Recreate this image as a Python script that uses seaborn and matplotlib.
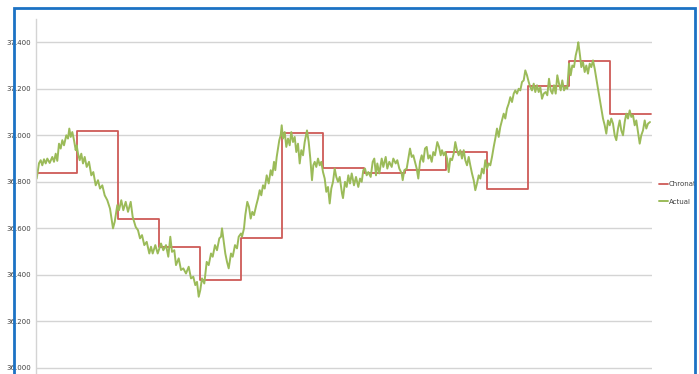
import matplotlib
matplotlib.use("Agg")
import matplotlib.pyplot as plt
import matplotlib.ticker as mticker
from matplotlib.patches import Rectangle
import seaborn as sns
import pandas as pd

# ---------------- data ----------------
# Chronat: 15 equal intervals (time units 0..615), step values
chronat_edges = [0, 41, 82, 123, 164, 205, 246, 287, 328, 369, 410, 451, 492, 533, 574, 615]
chronat_vals = [36.84, 37.02, 36.64, 36.52, 36.38, 36.56, 37.01, 36.86, 36.84, 36.85,
                36.93, 36.77, 37.21, 37.32, 37.09]

# Actual: traced series, part 1
actual_t1 = [0.7, 3, 4.7, 6.3, 8, 9.7, 11.3, 13.7, 16.3, 18, 19.7, 21.3, 23, 24.7, 26.3, 28,
             30.3, 32, 33.3, 34.7, 36.3, 38, 39.7, 40.7, 42, 43.7, 45.3, 47, 48.7, 50.7, 53,
             55.3, 57.3, 59.7, 62, 64, 66.3, 68.7, 71.3, 74, 75.7, 77, 78.7, 81.3, 83, 85.3,
             87.3, 89.7, 92, 94.7, 96.7, 99.7, 102]
actual_v1 = [36.814, 36.88, 36.893, 36.871, 36.897, 36.879, 36.90, 36.881, 36.907, 36.886,
             36.921, 36.89, 36.964, 36.943, 36.979, 36.957, 37.0, 36.986, 37.029, 36.993,
             37.014, 36.979, 36.936, 36.957, 36.921, 36.893, 36.921, 36.879, 36.907, 36.864,
             36.886, 36.828, 36.842, 36.785, 36.807, 36.771, 36.785, 36.742, 36.721, 36.685,
             36.635, 36.60, 36.628, 36.70, 36.678, 36.721, 36.678, 36.714, 36.671, 36.714,
             36.649, 36.606, 36.592]
# part 2
actual_t2 = [104, 106, 108.3, 110.7, 113.3, 115, 116.7, 119.3, 121.7, 125, 127.3, 130, 132.3,
             134.3, 136, 138.3, 140, 142.7, 145, 147.3, 150, 152.7, 155, 157.3, 159.3, 161,
             162.7, 164.3, 166, 168.3, 170.7, 172.7, 175, 176.7, 179, 181, 183.3, 185, 186,
             187.3, 189.3, 191, 192.7, 195, 196.7, 199, 201, 202.7, 205]
actual_v2 = [36.557, 36.571, 36.528, 36.542, 36.492, 36.521, 36.492, 36.528, 36.492, 36.535,
             36.506, 36.528, 36.478, 36.564, 36.499, 36.506, 36.442, 36.471, 36.421, 36.428,
             36.406, 36.435, 36.385, 36.392, 36.356, 36.37, 36.306, 36.335, 36.385, 36.363,
             36.456, 36.442, 36.492, 36.478, 36.528, 36.506, 36.557, 36.564, 36.60, 36.557,
             36.492, 36.456, 36.428, 36.492, 36.478, 36.528, 36.514, 36.564, 36.578]
# part 3
actual_t3 = [206, 208, 209.3, 211.3, 213, 214.7, 216.3, 218, 220.3, 222, 223.7, 225.3, 227,
             228.7, 230.7, 232.7, 234.7, 236.3, 238, 239.3, 240.7, 242, 243.3, 244.7, 245.7,
             247, 248.7, 250.3, 252, 253.7, 255.3, 257, 258.7, 260.3, 262, 263.7, 265.3, 267,
             268.7, 271, 272.7, 274.3, 276, 277.3, 278.7, 280.3, 282, 283.7, 285.3, 287,
             288.7, 290.3, 292, 293.7, 295.3, 297, 298.7, 300.3, 302, 303.7, 306, 307]
actual_v3 = [36.564, 36.60, 36.657, 36.714, 36.692, 36.642, 36.671, 36.657, 36.70, 36.728,
             36.764, 36.742, 36.785, 36.771, 36.828, 36.793, 36.85, 36.828, 36.886, 36.85,
             36.907, 36.943, 36.979, 37.0, 37.043, 36.986, 37.014, 36.95, 36.986, 36.957,
             37.014, 36.971, 36.993, 36.928, 36.964, 36.879, 36.936, 36.914, 36.971, 37.021,
             36.971, 36.90, 36.807, 36.871, 36.886, 36.864, 36.90, 36.871, 36.886, 36.842,
             36.814, 36.757, 36.778, 36.707, 36.771, 36.80, 36.857, 36.821, 36.80, 36.821,
             36.75, 36.73]
# part 4
actual_t4 = [309, 310.7, 312.3, 314, 315.7, 318, 320, 322.3, 324, 325.7, 327.3, 329, 330.7,
             332.3, 334.7, 336.7, 338.3, 340, 341.3, 343.3, 345.7, 347.3, 349.7, 351.3, 353.3,
             355.7, 357.3, 359.7, 361.3, 363.3, 365.7, 366.7, 368.3, 370.7, 372.3, 374, 375.7,
             377.3, 379, 380.7, 382.3, 384, 385.7, 387.3, 389, 390.7, 392.3, 394, 395.7, 397.3,
             399, 401.3, 403, 404.7]
actual_v4 = [36.80, 36.778, 36.828, 36.793, 36.836, 36.785, 36.821, 36.778, 36.814, 36.80,
             36.85, 36.857, 36.828, 36.842, 36.821, 36.886, 36.90, 36.828, 36.879, 36.836,
             36.90, 36.864, 36.907, 36.857, 36.886, 36.864, 36.90, 36.879, 36.893, 36.857,
             36.836, 36.807, 36.85, 36.857, 36.90, 36.943, 36.907, 36.914, 36.886, 36.857,
             36.814, 36.886, 36.914, 36.886, 36.943, 36.95, 36.90, 36.914, 36.886, 36.928,
             36.914, 36.971, 36.95, 36.914]
# part 5
actual_t5 = [406, 407.7, 409.3, 411, 412.7, 414.3, 416, 417.7, 419.3, 421, 422.7, 424.3, 426,
             427.7, 429.3, 431, 432.7, 434.3, 436, 437.7, 439.3, 441, 442.7, 444.3, 446, 447.7,
             449.3, 451, 452.7, 454.3, 456, 457.7, 459.3, 461, 462.7, 464.3, 466, 467.7, 469.3,
             471, 472.7, 474.3, 476, 477.7, 479.3, 481, 482.7, 484.3, 486, 487.7, 489.3, 491,
             492.7, 494.3, 496, 497.7, 499.3, 501, 502.7, 504.3, 506, 507.7]
actual_v5 = [36.936, 36.914, 36.928, 36.90, 36.842, 36.90, 36.893, 36.921, 36.971, 36.936,
             36.914, 36.936, 36.90, 36.936, 36.893, 36.871, 36.907, 36.871, 36.836, 36.807,
             36.764, 36.793, 36.828, 36.814, 36.857, 36.836, 36.893, 36.857, 36.879, 36.871,
             36.907, 36.95, 36.986, 37.029, 36.993, 37.036, 37.064, 37.093, 37.072, 37.115,
             37.136, 37.164, 37.143, 37.179, 37.193, 37.179, 37.20, 37.193, 37.229, 37.236,
             37.279, 37.258, 37.229, 37.207, 37.193, 37.222, 37.186, 37.215, 37.186, 37.207,
             37.157, 37.179]
# part 6
actual_t6 = [509.7, 511.3, 513, 514.7, 516.3, 518, 519.7, 521.3, 523, 524.7, 526.3, 528,
             529.7, 531.3, 533, 534.7, 536.3, 538, 539.7, 541.3, 542.3, 544, 545.3, 547,
             548.7, 550.3, 552, 553.7, 555.3, 557, 558.7, 560.3, 562, 563.7, 565.3, 567,
             568.7, 570.3, 572, 573.7, 575.3, 577, 578.7, 580.3, 582, 583.7, 585.3, 587,
             588.7, 590.3, 592, 593.7, 595.3, 597, 598.7, 600.3, 602, 603.7, 605.3, 607,
             608.7, 610.3, 612, 614]
actual_v6 = [37.186, 37.172, 37.243, 37.193, 37.179, 37.215, 37.179, 37.258, 37.222, 37.193,
             37.236, 37.193, 37.207, 37.20, 37.308, 37.258, 37.30, 37.293, 37.343, 37.372,
             37.40, 37.343, 37.293, 37.315, 37.272, 37.30, 37.265, 37.308, 37.293, 37.322,
             37.286, 37.243, 37.20, 37.157, 37.115, 37.072, 37.043, 37.007, 37.064, 37.043,
             37.072, 37.05, 37.0, 36.979, 37.029, 37.064, 37.021, 37.0, 37.057, 37.093,
             37.072, 37.107, 37.079, 37.086, 37.043, 37.064, 37.014, 36.964, 37.0, 37.021,
             37.064, 37.029, 37.05, 37.057]

y_ticks = [36.0, 36.2, 36.4, 36.6, 36.8, 37.0, 37.2, 37.4]

# ---------------- build frames ----------------
actual_t = actual_t1 + actual_t2 + actual_t3 + actual_t4 + actual_t5 + actual_t6
actual_v = actual_v1 + actual_v2 + actual_v3 + actual_v4 + actual_v5 + actual_v6
df_actual = pd.DataFrame({"t": actual_t, "v": actual_v})
df_chronat = pd.DataFrame({"t": chronat_edges, "v": chronat_vals + [chronat_vals[-1]]})

# ---------------- plot ----------------
sns.set_style("white")
plt.rcParams["font.family"] = ["Liberation Sans Narrow", "DejaVu Sans"]

W, H = 699, 374
fig = plt.figure(figsize=(W / 100, H / 100), dpi=100)
ax = fig.add_axes([36 / W, 0.0, 616 / W, (H - 18.5) / H])

red = "#CE5A57"
green = "#9BBB59"

sns.lineplot(data=df_chronat, x="t", y="v", ax=ax, color=red, lw=1.3,
             drawstyle="steps-post", estimator=None, label="Chronat")
sns.lineplot(data=df_actual, x="t", y="v", ax=ax, color=green, lw=1.4,
             estimator=None, sort=False, label="Actual")

ax.set_xlim(0, 616)
ax.set_ylim(35.974, 37.502)
ax.set_yticks(y_ticks)
ax.yaxis.set_major_formatter(mticker.FuncFormatter(lambda v, p: f"{v:.3f}"))
ax.set_xticks([])
ax.set_xlabel("")
ax.set_ylabel("")
ax.grid(axis="y", color="#d4d4d4", lw=1.0)
ax.set_axisbelow(True)
for s in ["top", "right", "bottom"]:
    ax.spines[s].set_visible(False)
ax.spines["left"].set_color("#d4d4d4")
ax.spines["left"].set_linewidth(1.0)
ax.tick_params(axis="y", length=0, pad=3.5, labelsize=5, labelcolor="#404040")

ax.legend(loc="center left", bbox_to_anchor=(659 / W, 1 - 193 / H),
          bbox_transform=fig.transFigure, frameon=False, fontsize=5,
          handlelength=1.3, handletextpad=0.15, labelspacing=1.7,
          borderpad=0, borderaxespad=0, labelcolor="#404040")

# blue outer frame (cropped at bottom)
fig.patches.append(Rectangle((14 / W, -0.2), (695 - 14) / W, (H - 8) / H + 0.2,
                             transform=fig.transFigure, fill=False,
                             edgecolor="#1C72C4", lw=2.0, zorder=10))

fig.savefig("out.png", dpi=100)
